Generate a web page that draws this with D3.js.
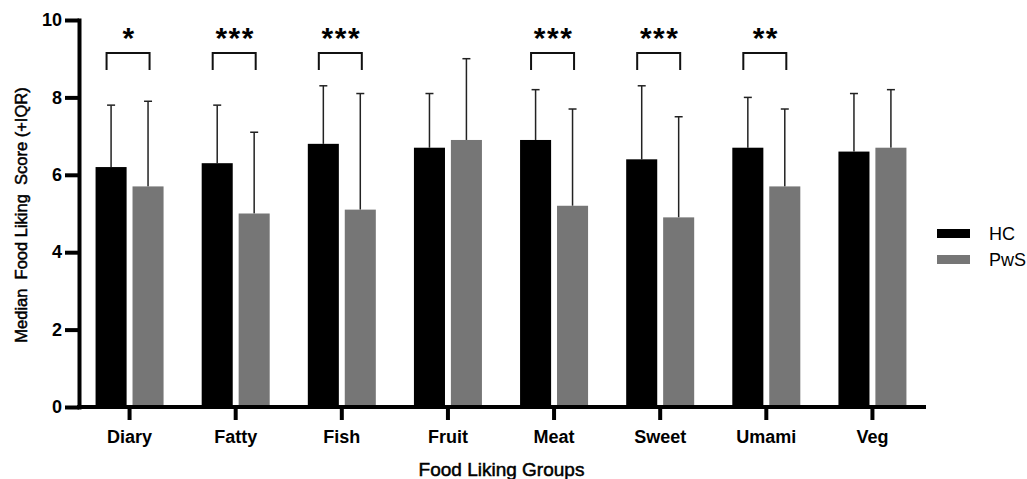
<!DOCTYPE html>
<html>
<head>
<meta charset="utf-8">
<script src="https://cdn.jsdelivr.net/npm/d3@7"></script>
<style>
  body { margin: 0; background: #fff; }
  svg { font-family: Arial, "Liberation Sans", sans-serif; }
</style>
</head>
<body>
<svg id="chart" width="1027" height="479"></svg>
<script>
// data
const groups = ["Diary", "Fatty", "Fish", "Fruit", "Meat", "Sweet", "Umami", "Veg"];
const series = ["HC", "PwS"];
const hcMedian  = [6.2, 6.3, 6.8, 6.7, 6.9, 6.4, 6.7, 6.6];
const hcUpper   = [7.8, 7.8, 8.3, 8.1, 8.2, 8.3, 8.0, 8.1];
const pwsMedian = [5.7, 5.0, 5.1, 6.9, 5.2, 4.9, 5.7, 6.7];
const pwsUpper  = [7.9, 7.1, 8.1, 9.0, 7.7, 7.5, 7.7, 8.2];
const stars     = ["*", "***", "***", "", "***", "***", "**", ""];
const yTicks    = [0, 2, 4, 6, 8, 10];
const colors    = ["#000000", "#767676"];

const svg = d3.select("#chart");

const x = d3.scaleBand().domain(groups).range([76.5, 925.5]);
const x1 = d3.scaleBand().domain(series).range([-34, 34]).paddingInner(0.16);
const y = d3.scaleLinear().domain([0, 10]).range([407, 20]);
const color = d3.scaleOrdinal().domain(series).range(colors);

const cx = g => x(g) + x.bandwidth() / 2;

const rows = [];
groups.forEach((g, i) => {
    rows.push({group: g, s: "HC", med: hcMedian[i], up: hcUpper[i]});
    rows.push({group: g, s: "PwS", med: pwsMedian[i], up: pwsUpper[i]});
});

// error bars (upper IQR only)
const err = svg.append("g").attr("stroke", "#222").attr("stroke-width", 1.5);
rows.forEach(d => {
    let bx = cx(d.group) + x1(d.s) + x1.bandwidth() / 2;
    err.append("line").attr("x1", bx).attr("x2", bx).attr("y1", y(d.med)).attr("y2", y(d.up));
    err.append("line").attr("x1", bx - 4).attr("x2", bx + 4).attr("y1", y(d.up)).attr("y2", y(d.up));
});

// bars
svg.append("g").selectAll("rect")
    .data(rows)
    .enter()
    .append("rect")
    .attr("x", d => cx(d.group) + x1(d.s))
    .attr("width", x1.bandwidth())
    .attr("y", d => y(d.med))
    .attr("height", d => y(0) - y(d.med))
    .attr("fill", d => color(d.s));

// significance brackets
const sig = svg.append("g");
groups.forEach((g, i) => {
    if (!stars[i]) return;
    let l = cx(g) - 23, r = cx(g) + 20;
    sig.append("path")
        .attr("d", `M${l},70V53H${r}V70`)
        .attr("fill", "none")
        .attr("stroke", "#111")
        .attr("stroke-width", 2);
    sig.append("text")
        .attr("x", (l + r) / 2 + 1)
        .attr("y", 48)
        .attr("text-anchor", "middle")
        .attr("font-size", 30)
        .attr("font-weight", "bold")
        .attr("letter-spacing", 1.5)
        .text(stars[i]);
});

// axes
const xAxis = svg.append("g")
    .attr("transform", "translate(0,407)")
    .call(d3.axisBottom(x).tickSize(13).tickPadding(10).tickSizeOuter(0));
xAxis.select(".domain").attr("d", "M79,0H924");

const yAxis = svg.append("g")
    .attr("transform", "translate(79,0)")
    .call(d3.axisLeft(y).tickValues(yTicks).tickSize(14).tickPadding(3).tickSizeOuter(0));

[xAxis, yAxis].forEach(a => {
    a.select(".domain").attr("stroke", "#000").attr("stroke-width", 4).attr("stroke-linecap", "square");
    a.selectAll(".tick line").attr("stroke", "#000").attr("stroke-width", 4);
    a.selectAll(".tick text")
        .attr("fill", "#000")
        .attr("font-size", 18)
        .attr("font-weight", "bold")
        .attr("font-family", "Arial, 'Liberation Sans', sans-serif");
});

// axis titles
svg.append("text")
    .attr("x", 501.5)
    .attr("y", 476)
    .attr("text-anchor", "middle")
    .attr("font-size", 19)
    .attr("stroke", "#000")
    .attr("stroke-width", 0.5)
    .text("Food Liking Groups");

svg.append("text")
    .attr("transform", "translate(27,215) rotate(-90)")
    .attr("text-anchor", "middle")
    .attr("font-size", 16.5)
    .attr("stroke", "#000")
    .attr("stroke-width", 0.5)
    .style("white-space", "pre")
    .text("Median  Food Liking  Score (+IQR)");

// legend
const ly = d3.scalePoint().domain(series).range([233.5, 259.5]);
const legend = svg.append("g");
series.forEach(s => {
    legend.append("rect")
        .attr("x", 937).attr("y", ly(s) - 4.5)
        .attr("width", 33).attr("height", 9)
        .attr("fill", color(s));
    legend.append("text")
        .attr("x", 989).attr("y", ly(s))
        .attr("dy", "0.36em")
        .attr("font-size", 18)
        .text(s);
});
</script>
</body>
</html>
